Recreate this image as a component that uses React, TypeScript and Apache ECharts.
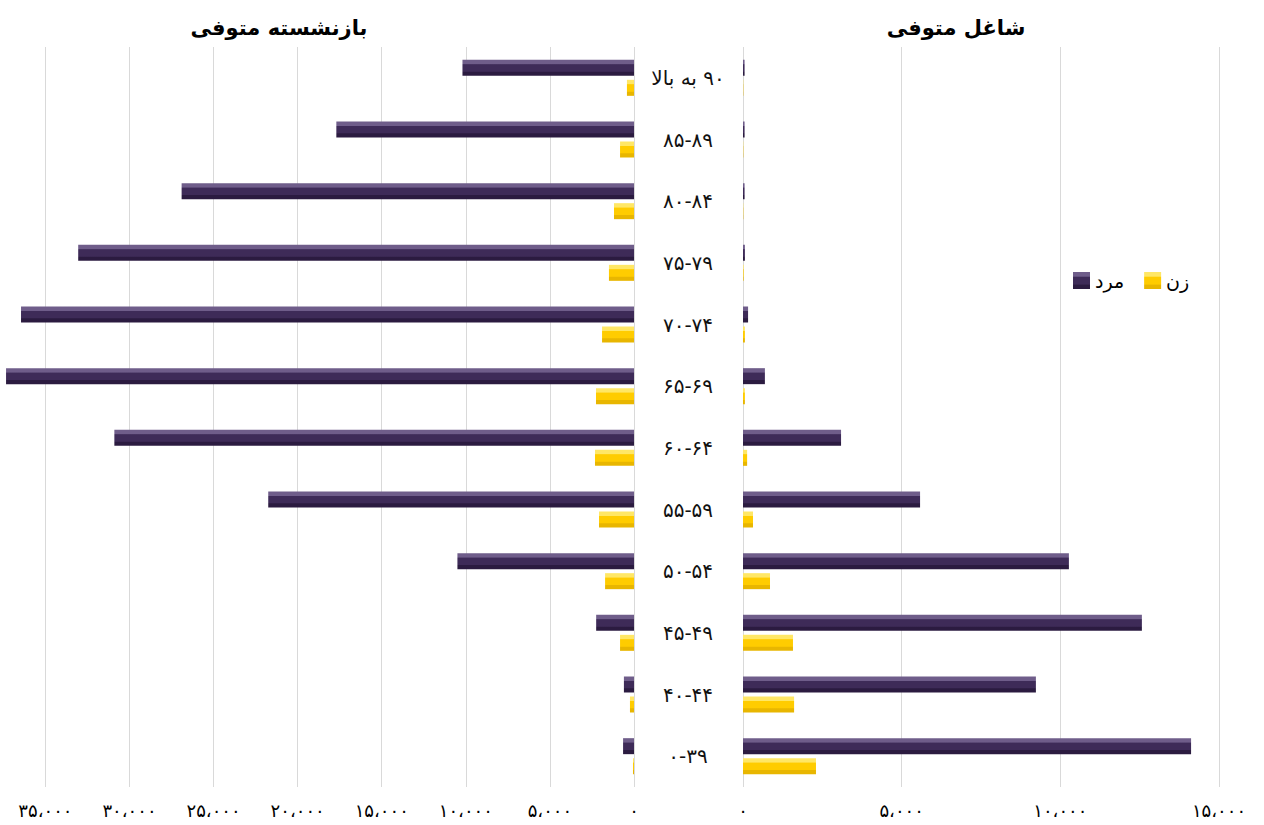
import React, { useEffect, useRef } from "react";
import * as echarts from "echarts";

const categories = ["۹۰ به بالا", "۸۵-۸۹", "۸۰-۸۴", "۷۵-۷۹", "۷۰-۷۴", "۶۵-۶۹", "۶۰-۶۴", "۵۵-۵۹", "۵۰-۵۴", "۴۵-۴۹", "۴۰-۴۴", "۰-۳۹"];
const retiredMale = [10200, 17700, 26900, 33050, 36450, 37340, 30900, 21750, 10500, 2250, 600, 650];
const retiredFemale = [420, 830, 1190, 1490, 1900, 2260, 2320, 2080, 1720, 830, 240, 60];
const employedMale = [50, 50, 50, 60, 160, 690, 3090, 5580, 10270, 12570, 9230, 14120];
const employedFemale = [10, 10, 10, 20, 60, 60, 130, 315, 850, 1575, 1610, 2300];
const titleLeft = "بازنشسته متوفی";
const titleRight = "شاغل متوفی";
const maleName = "مرد";
const femaleName = "زن";

const faDigits = "۰۱۲۳۴۵۶۷۸۹";
function toFa(n: number): string {
  const s = Math.round(n).toString().replace(/\B(?=(\d{3})+(?!\d))/g, "،");
  return s.replace(/\d/g, (d) => faDigits[Number(d)]);
}

function bevel(light: string, base: string, dark: string) {
  return new echarts.graphic.LinearGradient(0, 0, 0, 1, [
    { offset: 0, color: light },
    { offset: 0.25, color: light },
    { offset: 0.3, color: base },
    { offset: 0.72, color: base },
    { offset: 0.76, color: dark },
    { offset: 1, color: dark },
  ]);
}

const maleColor = () => bevel("#6f5d8a", "#3e2b58", "#2b1b40");
const femaleColor = () => bevel("#ffe766", "#ffcc00", "#e8b600");

export default function App() {
  const ref = useRef<HTMLDivElement>(null);
  useEffect(() => {
    if (!ref.current) return;
    const chart = echarts.init(ref.current, null, { renderer: "svg" });
    const labelFmt = (v: number) => (v % 5000 === 0 ? toFa(v) : "");
    const barCommon = { barWidth: 16, barGap: "25%", barCategoryGap: "40%" };
    chart.setOption({
      animation: false,
      backgroundColor: "#ffffff",
      title: [
        { text: titleLeft, left: 274, top: 12, textAlign: "center", textStyle: { fontFamily: "DejaVu Sans", fontWeight: "bold", fontSize: 21, color: "#000" } },
        { text: titleRight, left: 951, top: 12, textAlign: "center", textStyle: { fontFamily: "DejaVu Sans", fontWeight: "bold", fontSize: 21, color: "#000" } },
      ],
      legend: {
        data: [maleName, femaleName],
        left: 1068,
        top: 266,
        itemWidth: 17,
        itemHeight: 17,
        itemGap: 20,
        icon: "rect",
        textStyle: { fontFamily: "DejaVu Sans", fontSize: 19, color: "#000" },
      },
      grid: [
        { left: 0, top: 47, width: 634, height: 740 },
        { left: 743, top: 47, width: 476, height: 740 },
      ],
      xAxis: [
        {
          gridIndex: 0, type: "value", inverse: true, min: 0, max: 37700, interval: 5000,
          axisLine: { show: false }, axisTick: { show: false },
          splitLine: { show: true, showMaxLine: false, lineStyle: { color: "#d9d9d9", width: 1 } },
          axisLabel: { formatter: labelFmt, margin: 14, fontFamily: "DejaVu Sans", fontSize: 18, color: "#000", showMaxLabel: false },
        },
        {
          gridIndex: 1, type: "value", min: 0, max: 15000, interval: 5000,
          axisLine: { show: false }, axisTick: { show: false },
          splitLine: { show: true, lineStyle: { color: "#d9d9d9", width: 1 } },
          axisLabel: { formatter: labelFmt, margin: 14, fontFamily: "DejaVu Sans", fontSize: 18, color: "#000" },
        },
      ],
      yAxis: [
        {
          gridIndex: 0, type: "category", data: categories, inverse: true,
          axisLine: { show: false }, axisTick: { show: false }, axisLabel: { show: false },
        },
        {
          gridIndex: 1, type: "category", data: categories, inverse: true,
          axisLine: { show: false }, axisTick: { show: false },
          axisLabel: {
            show: true, align: "center", margin: 55, fontFamily: "DejaVu Sans", fontSize: 20, color: "#111",
            formatter: (v: string) => "\u200F" + v,
          },
        },
      ],
      series: [
        { name: maleName, type: "bar", xAxisIndex: 0, yAxisIndex: 0, data: retiredMale, itemStyle: { color: maleColor() }, ...barCommon },
        { name: femaleName, type: "bar", xAxisIndex: 0, yAxisIndex: 0, data: retiredFemale, itemStyle: { color: femaleColor() }, ...barCommon },
        { name: maleName, type: "bar", xAxisIndex: 1, yAxisIndex: 1, data: employedMale, itemStyle: { color: maleColor() }, ...barCommon },
        { name: femaleName, type: "bar", xAxisIndex: 1, yAxisIndex: 1, data: employedFemale, itemStyle: { color: femaleColor() }, ...barCommon },
      ],
    });
    return () => chart.dispose();
  }, []);
  return <div ref={ref} style={{ position: "absolute", left: 0, top: 0, width: 1264, height: 825 }} />;
}
